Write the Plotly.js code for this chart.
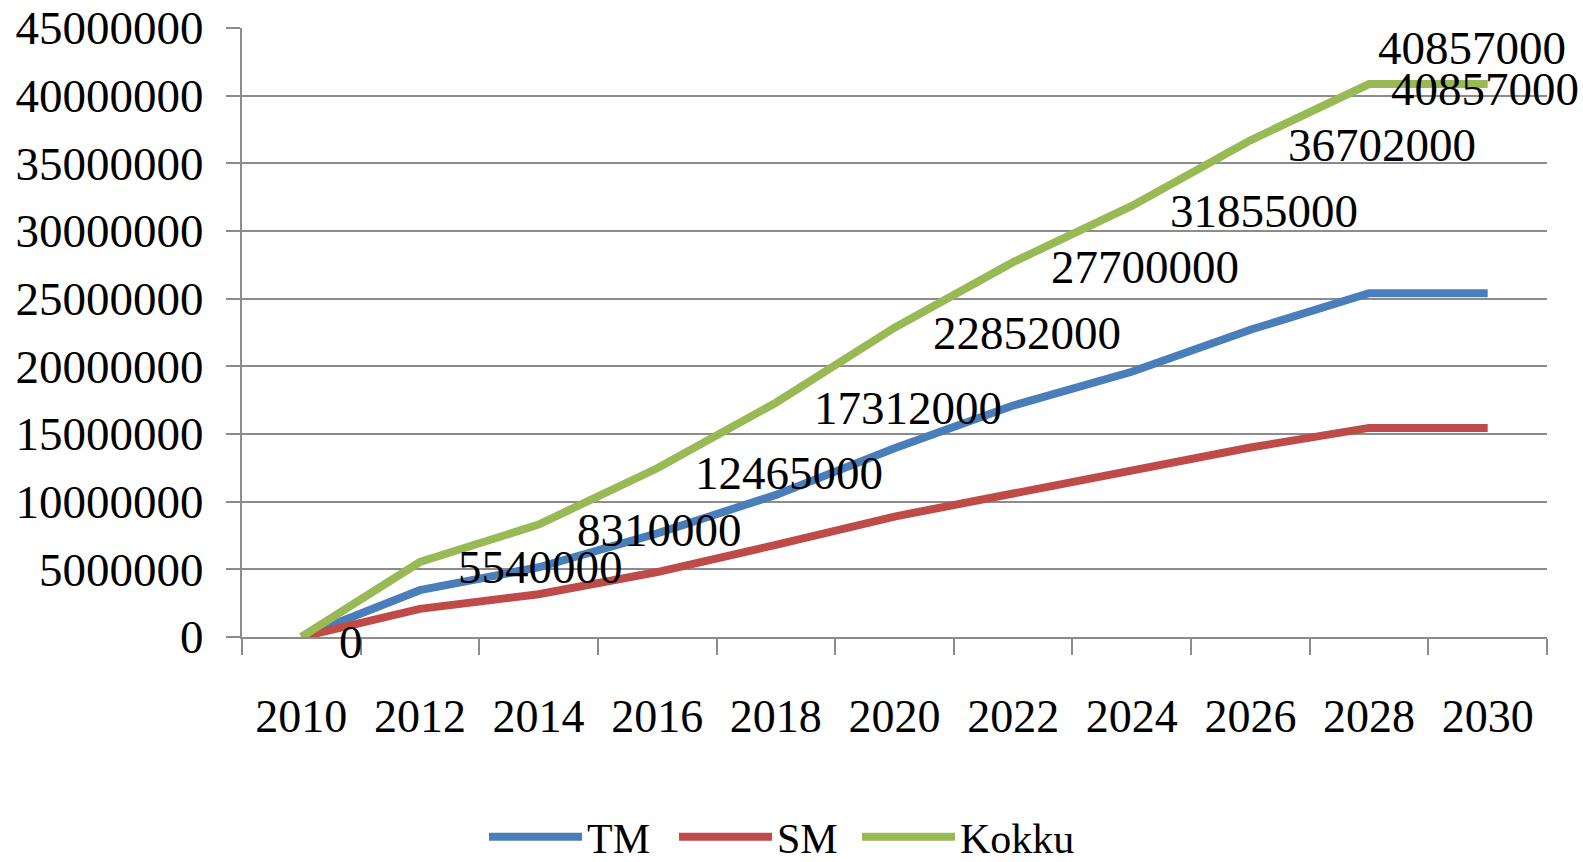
<!DOCTYPE html>
<html>
<head>
<meta charset="utf-8">
<script src="https://cdn.plot.ly/plotly-3.0.1.min.js"></script>
<style>
  html, body { margin: 0; padding: 0; background: #fff; }
  #chart { width: 1583px; height: 862px; }
</style>
</head>
<body>
<div id="chart"></div>
<script>
// ---- data ----
const years = ['2010', '2012', '2014', '2016', '2018', '2020', '2022', '2024', '2026', '2028', '2030'];
const tm = [0, 3460000, 5150000, 7660000, 10500000, 13950000, 17100000, 19600000, 22700000, 25400000, 25400000];
const sm = [0, 2080000, 3160000, 4800000, 6810000, 8900000, 10600000, 12250000, 14000000, 15450000, 15450000];
const kokku = [0, 5540000, 8310000, 12465000, 17312000, 22852000, 27700000, 31855000, 36702000, 40857000, 40857000];
const seriesNames = ['TM', 'SM', 'Kokku'];

// ---- style ----
const colors = ['#4A7EBB', '#BE4B48', '#98B954'];
const FONT = '"Liberation Serif", "Times New Roman", serif';
const gridColor = '#8c8c8c';
// label offsets (px) relative to each point
const labelXShift = [36, 36, 36, 36, 36, 36, 36, 36, 36, 7, -99];
const labelYShift = [-5, -5, -5, -5, -5, -5, -5, -5, -5, 36, -5];
// legend placement (one legend per series), left edge in px
const legendIds = ['legend', 'legend2', 'legend3'];
const legendLeft = [484, 674, 857];

const traces = [tm, sm, kokku].map((vals, i) => ({
  type: 'scatter',
  mode: 'lines',
  x: years,
  y: vals,
  name: seriesNames[i],
  legend: legendIds[i],
  line: { color: colors[i], width: 8 }
}));

const annotations = kokku.map((v, i) => ({
  x: i,
  y: v,
  xref: 'x',
  yref: 'y',
  text: '' + v,
  showarrow: false,
  xanchor: 'left',
  yanchor: 'middle',
  xshift: labelXShift[i],
  yshift: labelYShift[i],
  font: { family: FONT, size: 47, color: '#000000' }
}));

const layout = {
  width: 1583,
  height: 862,
  margin: { l: 242, r: 36, t: 28, b: 225 },
  paper_bgcolor: '#ffffff',
  plot_bgcolor: '#ffffff',
  font: { family: FONT, size: 46, color: '#000000' },
  showlegend: true,
  xaxis: {
    type: 'category',
    range: [-0.5, 10.5],
    showgrid: false,
    showline: true,
    linecolor: gridColor,
    linewidth: 2,
    ticks: 'outside',
    tickson: 'boundaries',
    ticklen: 16,
    tickwidth: 2,
    tickcolor: gridColor,
    ticklabelstandoff: 38,
    tickfont: { family: FONT, size: 46, color: '#000000' },
    zeroline: false
  },
  yaxis: {
    range: [0, 45000000],
    dtick: 5000000,
    tick0: 0,
    tickformat: 'd',
    showgrid: true,
    gridcolor: gridColor,
    gridwidth: 2,
    showline: true,
    linecolor: gridColor,
    linewidth: 2,
    ticks: 'outside',
    ticklen: 14,
    tickwidth: 2,
    tickcolor: gridColor,
    ticklabelstandoff: 13,
    tickfont: { family: FONT, size: 47, color: '#000000' },
    zeroline: false
  },
  annotations: annotations
};

legendIds.forEach((id, i) => {
  layout[id] = {
    orientation: 'h',
    xref: 'container',
    yref: 'container',
    x: legendLeft[i] / 1583,
    xanchor: 'left',
    y: 0.029,
    yanchor: 'middle',
    font: { family: FONT, size: 42, color: '#000000' },
    itemwidth: 93,
    bgcolor: 'rgba(0,0,0,0)'
  };
});

Plotly.newPlot('chart', traces, layout, { displayModeBar: false });
</script>
</body>
</html>
